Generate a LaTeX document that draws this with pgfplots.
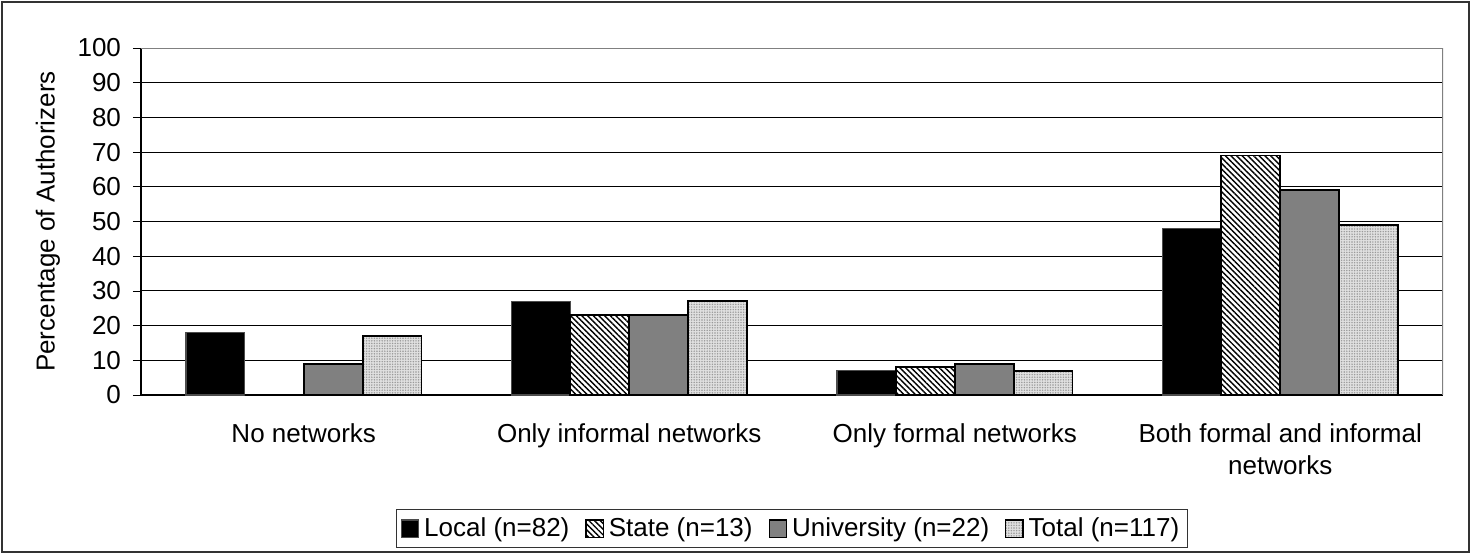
\documentclass[border=0pt]{standalone}
\usepackage{fontspec}
\setmainfont{Liberation Sans}
\usepackage{pgfplots}
\pgfplotsset{compat=1.18}
\usetikzlibrary{patterns,patterns.meta}

\begin{document}
\begin{tikzpicture}
% picture frame: 1 px = 0.5 pt, origin at the lower left corner of the axis
\useasboundingbox (-70.5pt,-79.5pt) rectangle (665pt,197.5pt);
\draw[black!80, line width=0.75pt] (-69.5pt,-78.5pt) rectangle (664pt,196.5pt);
\begin{axis}[
    at={(0pt,0pt)}, anchor=south west,
    scale only axis,
    width=651pt, height=173.5pt,
    font=\fontsize{13}{15}\selectfont,
    /pgf/number format/assume math mode=true,
    ybar=0pt,
    bar width=0.181,
    xmin=-0.5, xmax=3.5,
    ymin=0, ymax=100,
    ytick={0,10,...,100},
    yticklabel style={xshift=-2.5pt},
    xtick={0,1,2,3},
    xticklabels={No networks, Only informal networks, Only formal networks, {Both formal and informal\\networks}},
    xticklabel style={align=center, font=\fontsize{13}{16}\selectfont, yshift=-7pt},
    extra x ticks={-0.5,0.5,1.5,2.5,3.5},
    extra x tick labels={},
    extra x tick style={major tick length=4pt, tick style={black, thin}},
    x tick style={draw=none},
    y tick style={black, thin},
    major tick length=4pt,
    tick align=outside,
    axis x line*=bottom,
    axis y line*=left,
    axis line style={black, line width=0.6pt},
    separate axis lines,
    ymajorgrids=true,
    grid style={black, line width=0.5pt},
    ylabel={Percentage of Authorizers},
    every axis y label/.style={at={(axis description cs:-0.0715,0.5)}, rotate=90, anchor=center},
    legend columns=-1,
    legend style={at={(0.5,-0.385)}, anchor=center, draw=black!80, line width=0.5pt,
        font=\fontsize{13}{15}\selectfont, inner sep=2pt,
        /tikz/every odd column/.append style={column sep=0.5pt},
        /tikz/every even column/.append style={column sep=6pt}},
    legend image code/.code={\draw[#1, line width=0.6pt] (0pt,-4.3pt) rectangle (8.6pt,4.3pt);},
    legend cell align=left,
]
\draw[black!50, line width=0.8pt] (rel axis cs:0,1) -- (rel axis cs:1,1) -- (rel axis cs:1,0);

\addplot[bar shift=-0.2715, fill=black, draw=black!70, line width=0.6pt]
    coordinates {(0,18) (1,27) (2,7) (3,48)};
\addplot[bar shift=-0.0905, draw=black, line width=0.9pt, fill=white,
    postaction={pattern={Lines[angle=-45, distance=2pt, line width=0.7pt]}}]
    coordinates {(0,0) (1,23) (2,8) (3,69)};
\addplot[bar shift=0.0905, fill=black!50, draw=black, line width=0.9pt]
    coordinates {(0,9) (1,23) (2,9) (3,59)};
\addplot[bar shift=0.2715, fill=black!12, draw=black, line width=0.9pt,
    postaction={pattern={Dots[distance=1.3pt, radius=0.4pt]}, pattern color=black!40}]
    coordinates {(0,17) (1,27) (2,7) (3,49)};
\legend{Local (n=82), State (n=13), University (n=22), Total (n=117)}
\end{axis}
\end{tikzpicture}
\end{document}
